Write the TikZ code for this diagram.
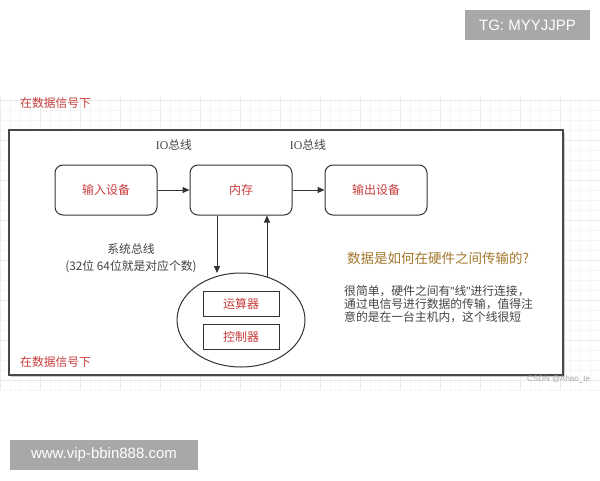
\documentclass[tikz,border=0pt]{standalone}
\usepackage{fontspec}
\setmainfont{Noto Sans CJK SC}
\newfontfamily\wmfont{Liberation Sans}
\newfontfamily\iofont{Liberation Serif}
\usetikzlibrary{shapes.geometric,arrows.meta}
\definecolor{redtxt}{HTML}{C83C3C}
\definecolor{goldtxt}{HTML}{A4772C}
\definecolor{graytxt}{HTML}{444444}
\definecolor{linecol}{HTML}{333333}
\definecolor{wmgray}{HTML}{A8A8A8}
\tikzset{
  unitbox/.style={draw=linecol, line width=1pt, rounded corners=8pt, minimum width=102pt, minimum height=50pt, inner sep=0pt, text=redtxt, font=\fontsize{12}{14}\selectfont},
  subbox/.style={draw=linecol, line width=1pt, minimum width=76pt, minimum height=25pt, inner sep=0pt, text=redtxt, font=\fontsize{12}{14}\selectfont},
  redlabel/.style={text=redtxt, font=\fontsize{11.8}{14}\selectfont, inner sep=0pt, anchor=west},
  buslabel/.style={text=graytxt, font=\fontsize{11.8}{14}\selectfont, inner sep=0pt},
  conn/.style={draw=linecol, line width=1pt, -{Triangle[length=7pt,width=6pt]}},
  wmbox/.style={fill=wmgray, text=white, inner sep=0pt, font=\wmfont\fontsize{15}{17}\selectfont}
}
\begin{document}
\begin{tikzpicture}[x=1pt,y=-1pt]
\useasboundingbox (0,0) rectangle (600,480);
\fill[white] (0,0) rectangle (600,480);
% grid
\foreach \gx in {0,10,...,600} \draw[gray!7, line width=0.4pt] (\gx,97) -- (\gx,390);
\foreach \gy in {100,110,...,390} \draw[gray!7, line width=0.4pt] (0,\gy) -- (600,\gy);
\foreach \gx in {0,40,...,600} \draw[gray!16, line width=0.5pt] (\gx,97) -- (\gx,390);
\foreach \gy in {100,140,...,380} \draw[gray!16, line width=0.5pt] (0,\gy) -- (600,\gy);
% watermarks
\node[wmbox, minimum width=125pt, minimum height=30pt] (tg) at (527.5,25) {TG: MYYJJPP};
\node[wmbox, minimum width=188pt, minimum height=30pt] (www) at (104,455) {www.vip-bbin888.com};
% frame
\fill[gray!40] (11,132.5) rectangle (565,377);
\node[draw=linecol!90, fill=white, line width=1.2pt, minimum width=554pt, minimum height=245pt, inner sep=0pt] (frame) at (286,252.5) {};
\node[redlabel] (toplabel) at (20,103) {在数据信号下};
\node[redlabel] (botlabel) at (20,362) {在数据信号下};
% units
\node[unitbox] (in) at (106,190) {输入设备};
\node[unitbox] (mem) at (241,190) {内存};
\node[unitbox] (out) at (376,190) {输出设备};
\node[buslabel] (io1) at (174,145) {{\iofont IO}总线};
\node[buslabel] (io2) at (308,145) {{\iofont IO}总线};
\draw[conn] (in.east) -- (mem.west);
\draw[conn] (mem.east) -- (out.west);
% cpu
\node[draw=linecol, line width=1pt, ellipse, minimum width=128pt, minimum height=94pt, inner sep=0pt] (cpu) at (241,320) {};
\node[subbox] (alu) at (241,303.5) {运算器};
\node[subbox] (ctl) at (241,336.5) {控制器};
\coordinate (dn) at (217,273);
\coordinate (up) at (267,277);
\draw[conn] (mem.south -| dn) -- (dn);
\draw[conn] (up) -- (mem.south -| up);
\node[buslabel, align=center, font=\fontsize{11.8}{17}\selectfont] (sysbus) at (131,258.5) {系统总线\\(32位 64位就是对应个数)};
% right text
\node[text=goldtxt, font=\fontsize{13.5}{15}\selectfont, inner sep=0pt, anchor=west] (q) at (347,258) {数据是如何在硬件之间传输的?};
\node[text=graytxt, font=\fontsize{11.8}{13}\selectfont, inner sep=0pt, anchor=west, align=left] (para) at (344,304) {很简单，硬件之间有{\wmfont"}线{\wmfont"}进行连接，\\通过电信号进行数据的传输，值得注\\意的是在一台主机内，这个线很短};
\node[text=gray!70, font=\wmfont\fontsize{8}{9}\selectfont, inner sep=0pt, anchor=west] (csdn) at (527,379) {CSDN @Ahao\_te};
\end{tikzpicture}
\end{document}
